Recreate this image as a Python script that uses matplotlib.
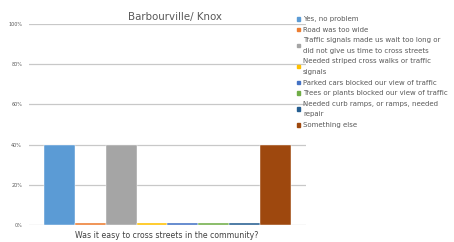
import matplotlib
matplotlib.use("Agg")
from matplotlib import pyplot as plt
from matplotlib.patches import Rectangle
from matplotlib.ticker import PercentFormatter

categories = ["Yes, no problem",
              "Road was too wide",
              "Traffic signals made us wait too long or\ndid not give us time to cross streets",
              "Needed striped cross walks or traffic\nsignals",
              "Parked cars blocked our view of traffic",
              "Trees or plants blocked our view of traffic",
              "Needed curb ramps, or ramps, needed\nrepair",
              "Something else"]
values = [40, 0.8, 40, 0.8, 0.8, 0.8, 0.8, 40]
colors = ["#5B9BD5", "#ED7D31", "#A5A5A5", "#FFC000",
          "#4472C4", "#70AD47", "#255E91", "#9E480E"]
yticks = [0, 20, 40, 60, 80, 100]

W, H = 454, 242
fig = plt.figure(figsize=(W / 100, H / 100), dpi=100)
ax = fig.add_axes([29 / W, 17 / H, 277 / W, 201 / H])

x = list(range(len(values)))
bars = ax.bar(x, values, width=1.0, color=colors, edgecolor="white", linewidth=0.3,
              zorder=3)

ax.set_xlim(-0.98, 7.98)
ax.set_ylim(0, 100)
ax.set_yticks(yticks)
ax.yaxis.set_major_formatter(PercentFormatter(decimals=0))
ax.tick_params(axis="y", labelsize=3.5, labelcolor="#595959", length=0, pad=5)
ax.set_xticks([])
ax.grid(axis="y", color="#c8c8c8", linewidth=0.9, zorder=0)
for s in ax.spines.values():
    s.set_visible(False)

fig.text(175 / W, 1 - 17 / H, "Barbourville/ Knox", ha="center", va="center",
         fontsize=7.4, color="#595959")
fig.text(167 / W, 1 - 235 / H, "Was it easy to cross streets in the community?",
         ha="center", va="center", fontsize=5.6, color="#404040")

# legend drawn by hand, line by line
line_h = 10.6
k = 0
for lab, c in zip(categories, colors):
    lines = lab.split("\n")
    yc = 19 + line_h * (k + (len(lines) - 1) / 2)
    fig.patches.append(Rectangle((296.5 / W, 1 - (yc + 1.8) / H), 3.6 / W, 3.6 / H,
                                 transform=fig.transFigure, color=c, figure=fig))
    for ln in lines:
        fig.text(303 / W, 1 - (19 + line_h * k) / H, ln, ha="left", va="center",
                 fontsize=5.05, color="#595959")
        k += 1

fig.savefig("out.png", dpi=100)
